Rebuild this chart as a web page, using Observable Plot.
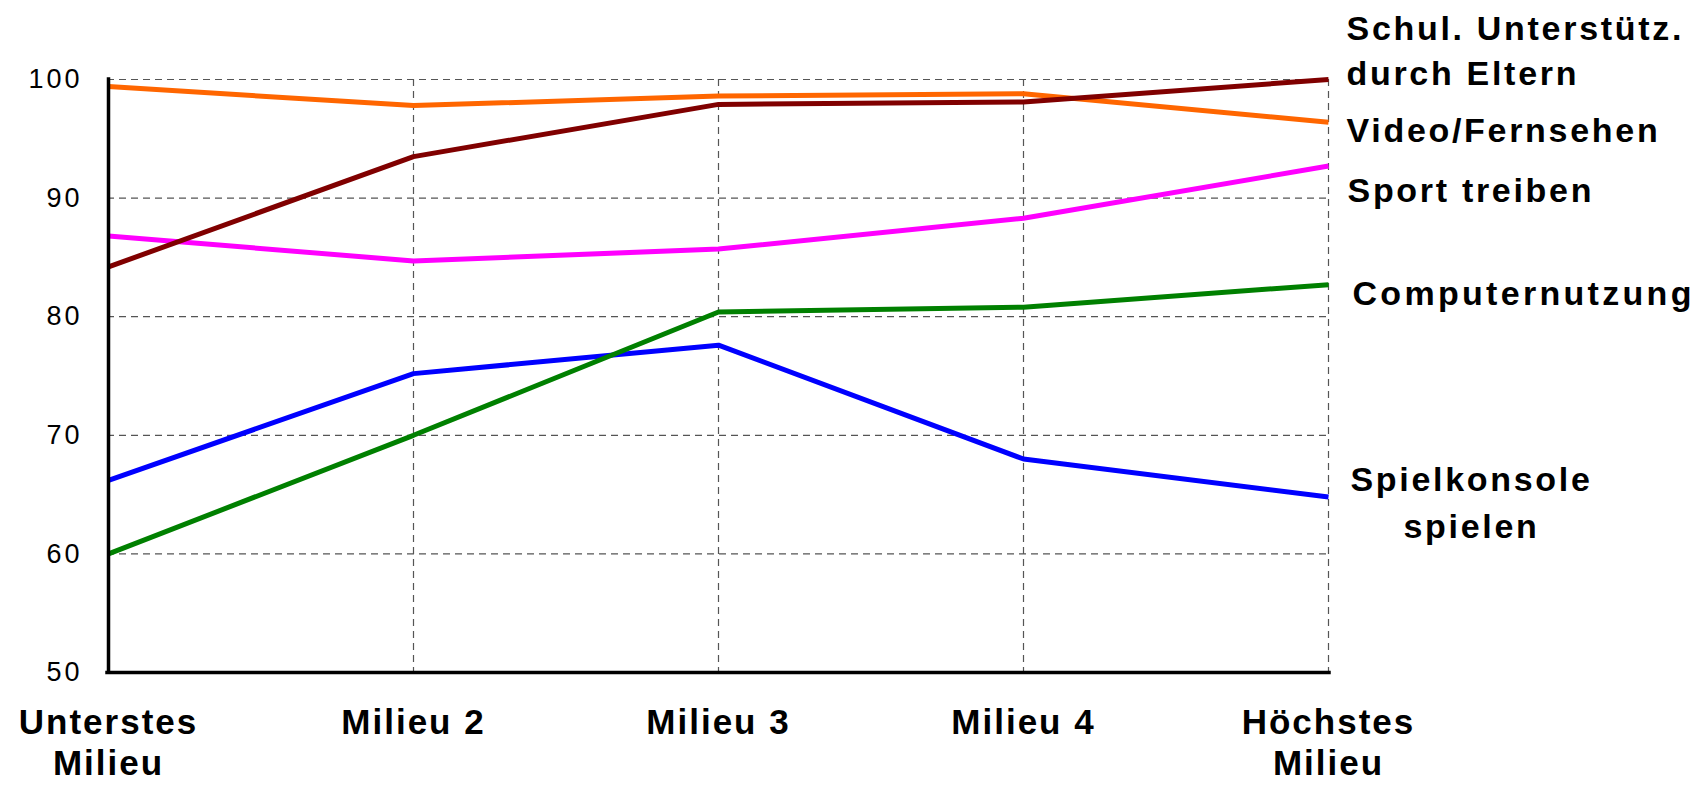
<!DOCTYPE html>
<html>
<head>
<meta charset="utf-8">
<script src="https://cdn.jsdelivr.net/npm/d3@7"></script>
<script src="https://cdn.jsdelivr.net/npm/@observablehq/plot@0.6"></script>
<style>
  html, body { margin: 0; padding: 0; background: white; }
  #chart { width: 1700px; height: 788px; overflow: hidden; }
</style>
</head>
<body>
<div id="chart"></div>
<script>
const categories = ["Unterstes\nMilieu", "Milieu 2", "Milieu 3", "Milieu 4", "Höchstes\nMilieu"];
const yTicks = [50, 60, 70, 80, 90, 100];

const schulValues = [84.2, 93.5, 97.9, 98.1, 100.0];
const videoValues = [99.4, 97.8, 98.6, 98.8, 96.4];
const sportValues = [86.8, 84.7, 85.7, 88.3, 92.7];
const computerValues = [60.0, 70.0, 80.4, 80.8, 82.7];
const spielValues = [66.2, 75.2, 77.6, 68.0, 64.8];

const seriesNames = ["Spielkonsole\nspielen", "Sport treiben", "Video/Fernsehen", "Computernutzung", "Schul. Unterstütz.\ndurch Eltern"];
const seriesValues = [spielValues, sportValues, videoValues, computerValues, schulValues];
const seriesColors = ["#0000FF", "#FF00FF", "#FF6600", "#008000", "#800000"];

// label styling per series (offsets from the line end)
const labelStyle = [
  {dx: 143, dy: -39, anchor: "middle", lh: 1.38, ls: 2.7},
  {dx: 19, dy: 5, anchor: "start", lh: 1.3, ls: 2.7},
  {dx: 18, dy: -12, anchor: "start", lh: 1.3, ls: 2.7},
  {dx: 24, dy: -11, anchor: "start", lh: 1.3, ls: 3.3},
  {dx: 18, dy: -71, anchor: "start", lh: 1.32, ls: 2.7}
];

const rows = seriesNames.map((name, s) =>
  seriesValues[s].map((v, i) => ({series: name, cat: categories[i], value: v}))
);

const gridStyle = {stroke: "#555", strokeOpacity: 1, strokeWidth: 1.2, strokeDasharray: "7,5"};

const marks = [
  Plot.gridY(yTicks.filter(v => v > 50), gridStyle),
  Plot.gridX(categories.slice(1), gridStyle),
  Plot.axisY(yTicks, {tickSize: 0, tickPadding: 25, fontSize: 27, fill: "black", label: null}),
  Plot.axisX(categories, {tickSize: 0, tickPadding: 32, fontSize: 35, fontWeight: "bold", lineHeight: 1.18, fill: "black", label: null})
];

rows.forEach((data, s) => {
  marks.push(Plot.line(data, {x: "cat", y: "value", stroke: seriesColors[s], strokeWidth: 5, strokeLinejoin: "miter", strokeLinecap: "butt"}));
});

marks.push(Plot.ruleX([categories[0]], {stroke: "black", strokeWidth: 3.5, strokeLinecap: "square"}));
marks.push(Plot.ruleY([50], {stroke: "black", strokeWidth: 3.5, strokeLinecap: "square"}));

rows.forEach((data, s) => {
  const st = labelStyle[s];
  marks.push(Plot.text([data[data.length - 1]], {
    x: "cat", y: "value", text: d => d.series,
    dx: st.dx, dy: st.dy, textAnchor: st.anchor, lineAnchor: "top", lineHeight: st.lh,
    fontSize: 34, fontWeight: "bold", fill: "black"
  }));
});

const chart = Plot.plot({
  width: 1700,
  height: 788,
  marginLeft: 107,
  marginRight: 371,
  marginTop: 79,
  marginBottom: 116,
  x: {type: "point", domain: categories, padding: 0, label: null},
  y: {domain: [50, 100], label: null},
  style: {fontFamily: "'Liberation Sans', Arial, sans-serif", background: "white", overflow: "visible"},
  marks
});

document.getElementById("chart").appendChild(chart);

const svg = d3.select(chart);
const labelTexts = seriesNames.map(n => n.replace("\n", ""));
svg.selectAll("text")
  .filter(function() { return labelTexts.includes(this.textContent); })
  .attr("letter-spacing", function() { return labelStyle[labelTexts.indexOf(this.textContent)].ls + "px"; });
svg.selectAll('g[aria-label="x-axis tick label"] text').attr("letter-spacing", "2px");
svg.selectAll('g[aria-label="y-axis tick label"] text').attr("letter-spacing", "3px");
</script>
</body>
</html>
